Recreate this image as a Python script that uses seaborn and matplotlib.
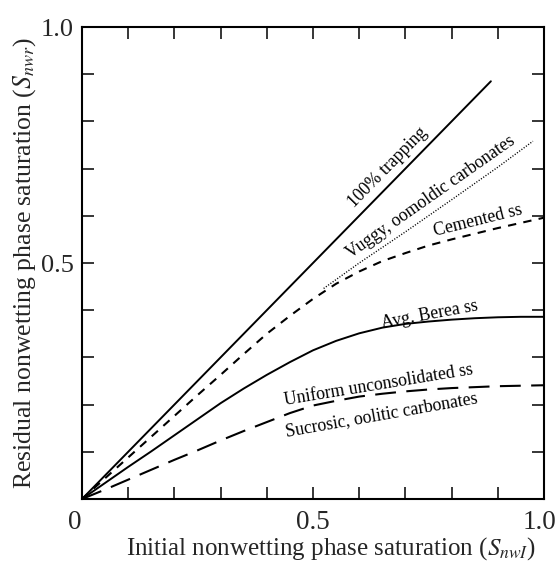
import numpy as np
import pandas as pd
import matplotlib
matplotlib.use("Agg")
import matplotlib.pyplot as plt
import matplotlib.transforms as mtrans
import seaborn as sns

# ---- data ----
x_grid = [0.0, 0.05, 0.1, 0.15, 0.2, 0.25, 0.3, 0.35, 0.4, 0.45, 0.5,
          0.55, 0.6, 0.65, 0.7, 0.75, 0.8, 0.85, 0.9, 0.95, 1.0]
y_cemented = [0.0, 0.044, 0.088, 0.132, 0.176, 0.220, 0.263, 0.307, 0.350, 0.388, 0.424,
              0.456, 0.482, 0.504, 0.521, 0.537, 0.550, 0.562, 0.574, 0.585, 0.596]
y_berea = [0.0, 0.034, 0.068, 0.101, 0.135, 0.169, 0.203, 0.234, 0.263, 0.290, 0.315,
           0.335, 0.351, 0.363, 0.371, 0.376, 0.380, 0.383, 0.385, 0.386, 0.386]
y_uniform = [0.0, 0.020, 0.041, 0.062, 0.083, 0.103, 0.124, 0.144, 0.163, 0.182, 0.198,
             0.208, 0.217, 0.223, 0.228, 0.232, 0.235, 0.237, 0.239, 0.240, 0.241]
x_trap = [0.0, 0.885]
y_trap = [0.0, 0.885]
x_vuggy = [0.523, 0.6, 0.7, 0.8, 0.9, 0.976]
y_vuggy = [0.446, 0.50, 0.566, 0.634, 0.703, 0.758]

x_ticks_minor = [0.1, 0.2, 0.3, 0.4, 0.6, 0.7, 0.8, 0.9]
y_ticks_minor = [0.1, 0.2, 0.3, 0.4, 0.6, 0.7, 0.8, 0.9]
x_tick_major = [0.0, 0.5, 1.0]
x_tick_labels = ["0", "0.5", "1.0"]
y_tick_major = [0.5, 1.0]
y_tick_labels = ["0.5", "1.0"]

labels = ["100% trapping", "Vuggy, oomoldic carbonates", "Cemented ss", "Avg. Berea ss",
          "Uniform unconsolidated ss", "Sucrosic, oolitic carbonates"]
label_x = [0.662, 0.755, 0.857, 0.753, 0.641, 0.649]
label_y = [0.703, 0.640, 0.590, 0.390, 0.242, 0.178]
label_rot = [45.5, 35, 14, 10.5, 9.3, 10]

sns.set_style("ticks")
plt.rcParams["font.family"] = ["Liberation Serif", "DejaVu Serif"]
plt.rcParams["mathtext.fontset"] = "stix"

fig = plt.figure(figsize=(5.58, 5.61), dpi=100)
ax = fig.add_axes([82 / 558, 62 / 561, 462 / 558, 472 / 561])

sns.lineplot(x=x_trap, y=y_trap, ax=ax, color="black", lw=1.4)
sns.lineplot(x=x_vuggy, y=y_vuggy, ax=ax, color="black", lw=1.0, linestyle=(0, (0.8, 1.2)))
sns.lineplot(x=x_grid, y=y_cemented, ax=ax, color="black", lw=1.5, linestyle=(0, (4, 3.5)))
sns.lineplot(x=x_grid, y=y_berea, ax=ax, color="black", lw=1.4)
sns.lineplot(x=x_grid, y=y_uniform, ax=ax, color="black", lw=1.5, linestyle=(0, (10, 5)))

for t, lx, ly, r in zip(labels, label_x, label_y, label_rot):
    ax.text(lx, ly, t, rotation=r, rotation_mode="anchor", ha="center", va="center",
            fontsize=12.8, color="black")

ax.set_xlim(0, 1.0)
ax.set_ylim(0, 1.0)
ax.set_xticks(x_tick_major)
ax.set_xticklabels(x_tick_labels)
ax.set_yticks(y_tick_major)
ax.set_yticklabels(y_tick_labels)
ax.set_xticks(x_ticks_minor, minor=True)
ax.set_yticks(y_ticks_minor, minor=True)

ax.tick_params(which="both", direction="in", length=8.5, width=1.1, top=True, right=True,
               color="black")
ax.tick_params(axis="x", which="major", pad=8, labelsize=19.5)
ax.tick_params(axis="y", which="major", pad=6, labelsize=19)
# small offsets of the end labels as in the reference
xl = ax.get_xticklabels()
xl[0].set_transform(xl[0].get_transform() + mtrans.ScaledTranslation(-7 / 100, 0, fig.dpi_scale_trans))
xl[2].set_transform(xl[2].get_transform() + mtrans.ScaledTranslation(-5 / 100, 0, fig.dpi_scale_trans))
for s in ax.spines.values():
    s.set_linewidth(1.5)
    s.set_color("black")

ax.set_xlabel(r"Initial nonwetting phase saturation ($S_{nwI}$)", fontsize=18, labelpad=0, x=0.54)
ax.set_ylabel(r"Residual nonwetting phase saturation ($S_{nwr}$)", fontsize=18.5, labelpad=2)

fig.savefig("out.png", dpi=100, facecolor="white")
